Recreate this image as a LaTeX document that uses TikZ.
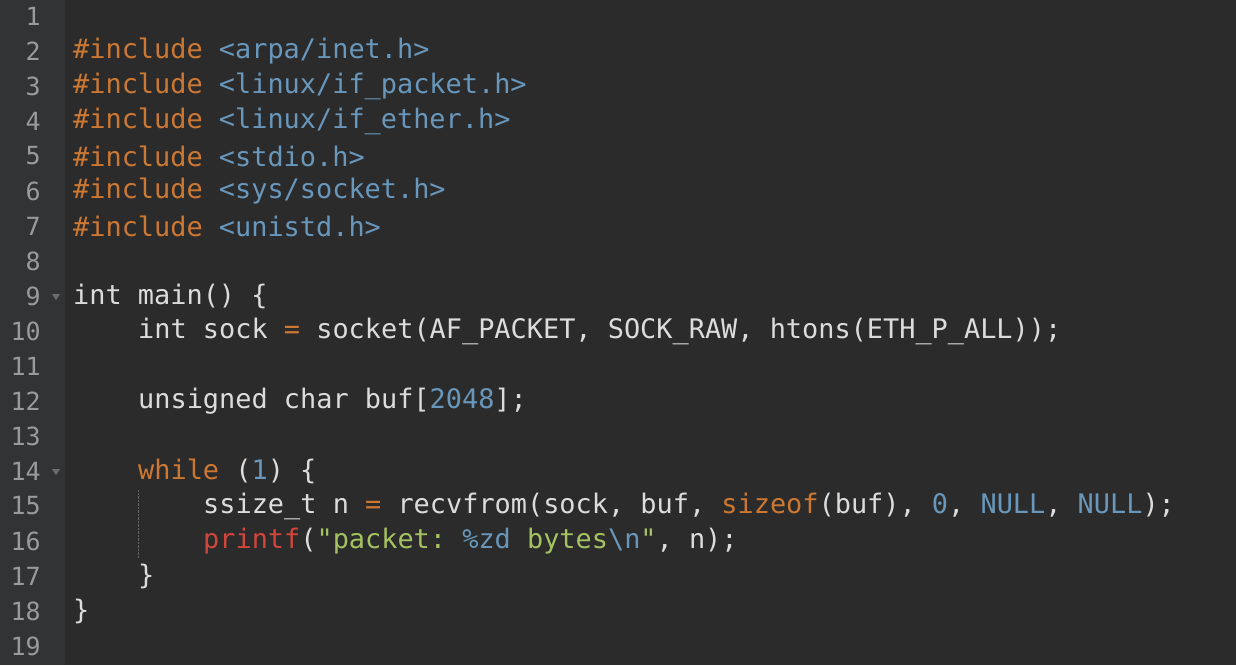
\documentclass[tikz,border=0pt]{standalone}
\usepackage{fontspec}
\setmonofont{DejaVu Sans Mono}
\usetikzlibrary{positioning}
\definecolor{bgmain}{HTML}{2B2B2B}
\definecolor{bggutter}{HTML}{313335}
\definecolor{numfg}{HTML}{9A9A9A}
\definecolor{codefg}{HTML}{DCDCDC}
\definecolor{kwcol}{HTML}{CC7832}
\definecolor{numcol}{HTML}{6897BB}
\definecolor{strcol}{HTML}{A5C261}
\definecolor{fncol}{HTML}{D0463A}
\newcommand\kw[1]{\textcolor{kwcol}{#1}}
\newcommand\nm[1]{\textcolor{numcol}{#1}}
\newcommand\st[1]{\textcolor{strcol}{#1}}
\newcommand\fn[1]{\textcolor{fncol}{#1}}
\tikzset{
  lineno/.style={anchor=east,inner sep=0,text=numfg,font=\fontsize{25}{25}\selectfont\ttfamily},
  code/.style={anchor=west,inner sep=0,text=codefg,font=\fontsize{26.9}{26.9}\selectfont\ttfamily},
  fold/.style={fill=numfg!70!black}
}
\begin{document}
\begin{tikzpicture}[x=1pt,y=-1pt]
	\fill[bgmain] (0,0) rectangle (1236,665);
	\fill[bggutter] (0,0) rectangle (65,665);
	\useasboundingbox (0,0) rectangle (1236,665);
	% line numbers
	\foreach \n in {1,...,19}
		\node (L\n) [lineno] at (41,{16+(\n-1)*35}) {\n};
	% fold markers
	\fill[fold] (52,294) -- (60,294) -- (56,300) -- cycle;
	\fill[fold] (52,469) -- (60,469) -- (56,475) -- cycle;
	% indent guide
	\draw[numfg!50!bgmain,densely dotted] (138,490) -- (138,558);
	% code
	\node (c2) [code] at (73,{16+1*35}) {\kw{\#include} \nm{<arpa/inet.h>}};
	\node (c3) [code] at (73,{16+2*35}) {\kw{\#include} \nm{<linux/if\_packet.h>}};
	\node (c4) [code] at (73,{16+3*35}) {\kw{\#include} \nm{<linux/if\_ether.h>}};
	\node (c5) [code] at (73,{16+4*35}) {\kw{\#include} \nm{<stdio.h>}};
	\node (c6) [code] at (73,{16+5*35}) {\kw{\#include} \nm{<sys/socket.h>}};
	\node (c7) [code] at (73,{16+6*35}) {\kw{\#include} \nm{<unistd.h>}};
	\node (c9) [code] at (73,{16+8*35}) {int main() \{};
	\node (c10) [code] at (138,{16+9*35}) {int sock \kw{=} socket(AF\_PACKET, SOCK\_RAW, htons(ETH\_P\_ALL));};
	\node (c12) [code] at (138,{16+11*35}) {unsigned char buf[\nm{2048}];};
	\node (c14) [code] at (138,{16+13*35}) {\kw{while} (\nm{1}) \{};
	\node (c15) [code] at (203,{16+14*35}) {ssize\_t n \kw{=} recvfrom(sock, buf, \kw{sizeof}(buf), \nm{0}, \nm{NULL}, \nm{NULL});};
	\node (c16) [code] at (203,{16+15*35}) {\fn{printf}(\st{"packet:} \nm{\%zd} \st{bytes}\nm{\textbackslash n}\st{"}, n);};
	\node (c17) [code] at (138,{16+16*35}) {\}};
	\node (c18) [code] at (73,{16+17*35}) {\}};
\end{tikzpicture}
\end{document}
